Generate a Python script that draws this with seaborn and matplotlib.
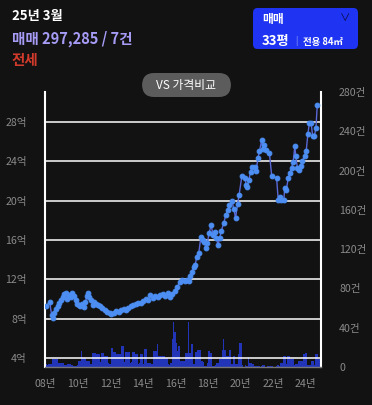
import numpy as np
import pandas as pd
import matplotlib
matplotlib.use("Agg")
import matplotlib.pyplot as plt
from matplotlib.patches import FancyBboxPatch
import seaborn as sns

# ----------------- data -----------------
# price series (decimal year, 억)
price_year = [
    2008.05, 2008.25, 2008.38, 2008.45, 2008.55, 2008.65, 2008.75, 2008.85, 2008.95,
    2009.05, 2009.15, 2009.25, 2009.35, 2009.45, 2009.55, 2009.65, 2009.75, 2009.85, 2009.95,
    2010.05, 2010.15, 2010.25, 2010.35, 2010.45, 2010.55, 2010.62, 2010.7, 2010.8, 2010.9,
    2011.0, 2011.1, 2011.2, 2011.35, 2011.5, 2011.65, 2011.8, 2011.95,
    2012.05, 2012.2, 2012.35, 2012.5, 2012.65, 2012.8, 2012.95,
    2013.1, 2013.25, 2013.4, 2013.55, 2013.7, 2013.85,
    2014.0, 2014.15, 2014.3, 2014.45, 2014.6, 2014.75, 2014.9,
    2015.05, 2015.2, 2015.35, 2015.5, 2015.65, 2015.8, 2015.95,
    2016.1, 2016.25, 2016.4, 2016.55, 2016.7, 2016.8, 2016.9,
    2017.0, 2017.1, 2017.2, 2017.3, 2017.42, 2017.55, 2017.65, 2017.75, 2017.85, 2017.95,
    2018.05, 2018.18, 2018.3, 2018.4, 2018.5, 2018.6, 2018.7, 2018.8, 2018.95,
    2019.08, 2019.2, 2019.3, 2019.45, 2019.58, 2019.68, 2019.8, 2019.9,
    2020.07, 2020.25, 2020.33, 2020.4, 2020.5, 2020.6, 2020.7, 2020.85, 2020.95,
    2021.05, 2021.15, 2021.28, 2021.36, 2021.45, 2021.52, 2021.76, 2021.9,
    2022.2, 2022.3, 2022.4, 2022.5, 2022.65, 2022.7, 2022.8, 2022.92,
    2023.02, 2023.12, 2023.22, 2023.32, 2023.38, 2023.48, 2023.58, 2023.68, 2023.78, 2023.92,
    2024.02, 2024.12, 2024.22, 2024.32, 2024.42, 2024.52, 2024.62, 2024.7,
]
price = [
    9.3, 9.75, 8.4, 8.1, 8.6, 9.0, 9.3, 9.6, 9.9,
    10.2, 10.5, 10.6, 10.0, 10.4, 10.2, 10.6, 10.3, 9.9, 9.5,
    9.4, 9.3, 9.5, 9.2, 9.7, 10.3, 10.6, 10.2, 9.9, 9.4,
    9.7, 9.5, 9.4, 9.3, 9.1, 8.9, 8.7, 8.6,
    8.5, 8.6, 8.8, 8.7, 8.9, 9.0, 8.9,
    9.1, 9.3, 9.4, 9.5, 9.6, 9.6,
    9.8, 10.0, 9.9, 10.4, 10.1, 10.3, 10.2,
    10.4, 10.5, 10.3, 10.6, 10.2, 10.5, 10.8,
    11.2, 11.7, 11.9, 11.8, 11.9, 11.8, 12.3,
    12.8, 13.3, 13.5, 14.3, 14.7, 16.3, 16.0, 15.8, 15.2, 15.7,
    16.7, 17.5, 16.5, 16.8, 16.2, 15.5, 16.2, 16.9, 17.7,
    18.5, 19.0, 19.5, 20.0, 19.1, 18.2, 19.6, 20.6,
    22.5, 22.3, 21.6, 21.4, 22.1, 22.9, 23.4, 23.4, 23.0,
    24.3, 25.0, 26.1, 25.2, 25.65, 25.1, 24.8, 22.5,
    22.3, 20.1, 20.35, 20.1, 20.1, 21.3, 21.1, 22.3,
    22.8, 23.3, 23.9, 25.5, 24.5, 23.3, 23.1, 23.45, 24.0, 24.5,
    25.0, 26.7, 27.9, 27.9, 26.5, 26.5, 27.35, 29.7,
]

# monthly deal counts (건), Jan 2008 .. Dec 2024
deals = [
    3, 2, 3, 3, 3, 8, 8, 8, 8, 4, 4, 4,
    4, 4, 2, 2, 3, 3, 3, 2, 1, 1, 1, 2,
    6, 6, 16, 9, 9, 9, 6, 6, 6, 3, 14, 14,
    14, 13, 13, 13, 5, 14, 14, 11, 11, 11, 4, 3,
    19, 19, 15, 15, 13, 13, 13, 13, 21, 21, 5, 15,
    15, 15, 4, 5, 15, 15, 13, 13, 3, 4, 13, 13,
    3, 18, 18, 4, 4, 4, 3, 16, 16, 16, 23, 11,
    11, 11, 11, 11, 9, 9, 3, 2, 4, 29, 46, 36,
    24, 16, 21, 6, 6, 6, 6, 14, 14, 46, 14, 23,
    23, 3, 15, 15, 17, 17, 17, 6, 5, 1, 1, 4,
    16, 14, 14, 1, 1, 2, 4, 4, 8, 8, 17, 29,
    17, 11, 11, 17, 17, 3, 11, 11, 3, 3, 13, 24,
    24, 2, 0, 2, 1, 10, 4, 4, 3, 3, 1, 1,
    1, 1, 0, 1, 2, 2, 0, 1, 1, 1, 1, 1,
    0, 0, 1, 2, 1, 4, 4, 11, 11, 3, 11, 11,
    8, 8, 8, 2, 3, 3, 6, 6, 6, 6, 13, 14,
    14, 2, 2, 2, 6, 6, 2, 13, 13, 8, 8, 5,
]
deal_year = [2008 + (i + 0.5) / 12 for i in range(len(deals))]

price_ticks = [4, 8, 12, 16, 20, 24, 28]
price_labels = [f"{v}억" for v in price_ticks]
deal_ticks = [0, 40, 80, 120, 160, 200, 240, 280]
deal_labels = ["0"] + [f"{v}건" for v in deal_ticks[1:]]
year_ticks = [2008, 2010, 2012, 2014, 2016, 2018, 2020, 2022, 2024]
year_labels = [f"{y % 100:02d}년" for y in year_ticks]

df_price = pd.DataFrame({"year": price_year, "price": price})

# ----------------- plot -----------------
sns.set_theme(style="dark")
plt.rcParams["font.family"] = ["Noto Sans CJK KR", "DejaVu Sans"]

BG = "#121212"
fig = plt.figure(figsize=(3.72, 4.05), dpi=100, facecolor=BG)
ax = fig.add_axes([45 / 372, 1 - 367 / 405, 276 / 372, 275 / 405])
ax2 = ax.twinx()

# bars (deal count) behind the price axis
ax2.bar(deal_year, deals, width=1 / 12, color="#2234b8", linewidth=0)
ax2.set_ylim(0, 280)
ax2.set_yticks(deal_ticks)
ax2.set_yticklabels(deal_labels)
ax2.set_facecolor(BG)

ax.set_zorder(ax2.get_zorder() + 1)
ax.patch.set_visible(False)

for v in price_ticks:
    ax.axhline(v, color="white", lw=1.1, zorder=1)

sns.lineplot(data=df_price, x="year", y="price", ax=ax, color="#5a68d8", lw=1,
             marker="o", markersize=3.4, markerfacecolor="#4c8ef2",
             markeredgecolor="#4c8ef2", zorder=3)

ax.set_xlim(2007.97, 2024.93)
ax.set_ylim(3.12, 31.0)
ax.set_yticks(price_ticks)
ax.set_yticklabels(price_labels)
ax.set_xticks(year_ticks)
ax.set_xticklabels(year_labels)
ax.set_xlabel("")
ax.set_ylabel("")
ax.grid(False)
ax2.grid(False)

for a in (ax, ax2):
    a.tick_params(length=0, labelsize=7.6, colors="#8a8a8a")
    for s in a.spines.values():
        s.set_visible(False)
ax.tick_params(axis="y", pad=13)
ax.tick_params(axis="x", pad=9)
ax2.tick_params(axis="y", pad=13)
ax2.spines["left"].set_visible(True)
ax2.spines["left"].set_color("white")
ax2.spines["left"].set_linewidth(1.5)
ax2.spines["right"].set_visible(True)
ax2.spines["right"].set_color("white")
ax2.spines["right"].set_linewidth(1.5)
ax2.spines["bottom"].set_visible(True)
ax2.spines["bottom"].set_color("#777777")
ax2.spines["bottom"].set_linewidth(1)

# header texts
fig.text(12 / 372, 1 - 16 / 405, "25년 3월", color="white", fontsize=9.5,
         fontweight="bold", va="center", ha="left")
fig.text(12 / 372, 1 - 39 / 405, "매매 297,285 / 7건", color="#a69cf6", fontsize=10.5,
         fontweight="bold", va="center", ha="left")
fig.text(12 / 372, 1 - 60 / 405, "전세", color="#d23a2c", fontsize=10.5,
         fontweight="bold", va="center", ha="left")

# dropdown box
box = FancyBboxPatch((253 / 372, 1 - 49 / 405), 105 / 372, 41 / 405,
                     boxstyle="round,pad=0,rounding_size=0.012",
                     transform=fig.transFigure, facecolor="#1f34f2", edgecolor="none")
fig.patches.append(box)
fig.text(262 / 372, 1 - 20 / 405, "매매", color="white", fontsize=8.5,
         fontweight="bold", va="center", ha="left")
fig.text(345 / 372, 1 - 19 / 405, "∨", color="#0c0c40", fontsize=7.5,
         va="center", ha="center")
fig.text(262 / 372, 1 - 41 / 405, "33평", color="white", fontsize=9.5,
         fontweight="bold", va="center", ha="left")
fig.text(296.5 / 372, 1 - 41 / 405, "|", color="#aab0ff", fontsize=6,
         va="center", ha="center")
fig.text(303 / 372, 1 - 41.5 / 405, "전용 84㎡", color="white", fontsize=6.8,
         fontweight="bold", va="center", ha="left")

# VS pill
pill = FancyBboxPatch((142 / 372, 1 - 97 / 405), 89 / 372, 24 / 405,
                      boxstyle="round,pad=0,rounding_size=0.032",
                      transform=fig.transFigure, facecolor="#5c5c5c", edgecolor="none")
fig.patches.append(pill)
fig.text(186.5 / 372, 1 - 85 / 405, "VS 가격비교", color="white", fontsize=8.5,
         va="center", ha="center")

plt.savefig("out.png", dpi=100, facecolor=BG)
